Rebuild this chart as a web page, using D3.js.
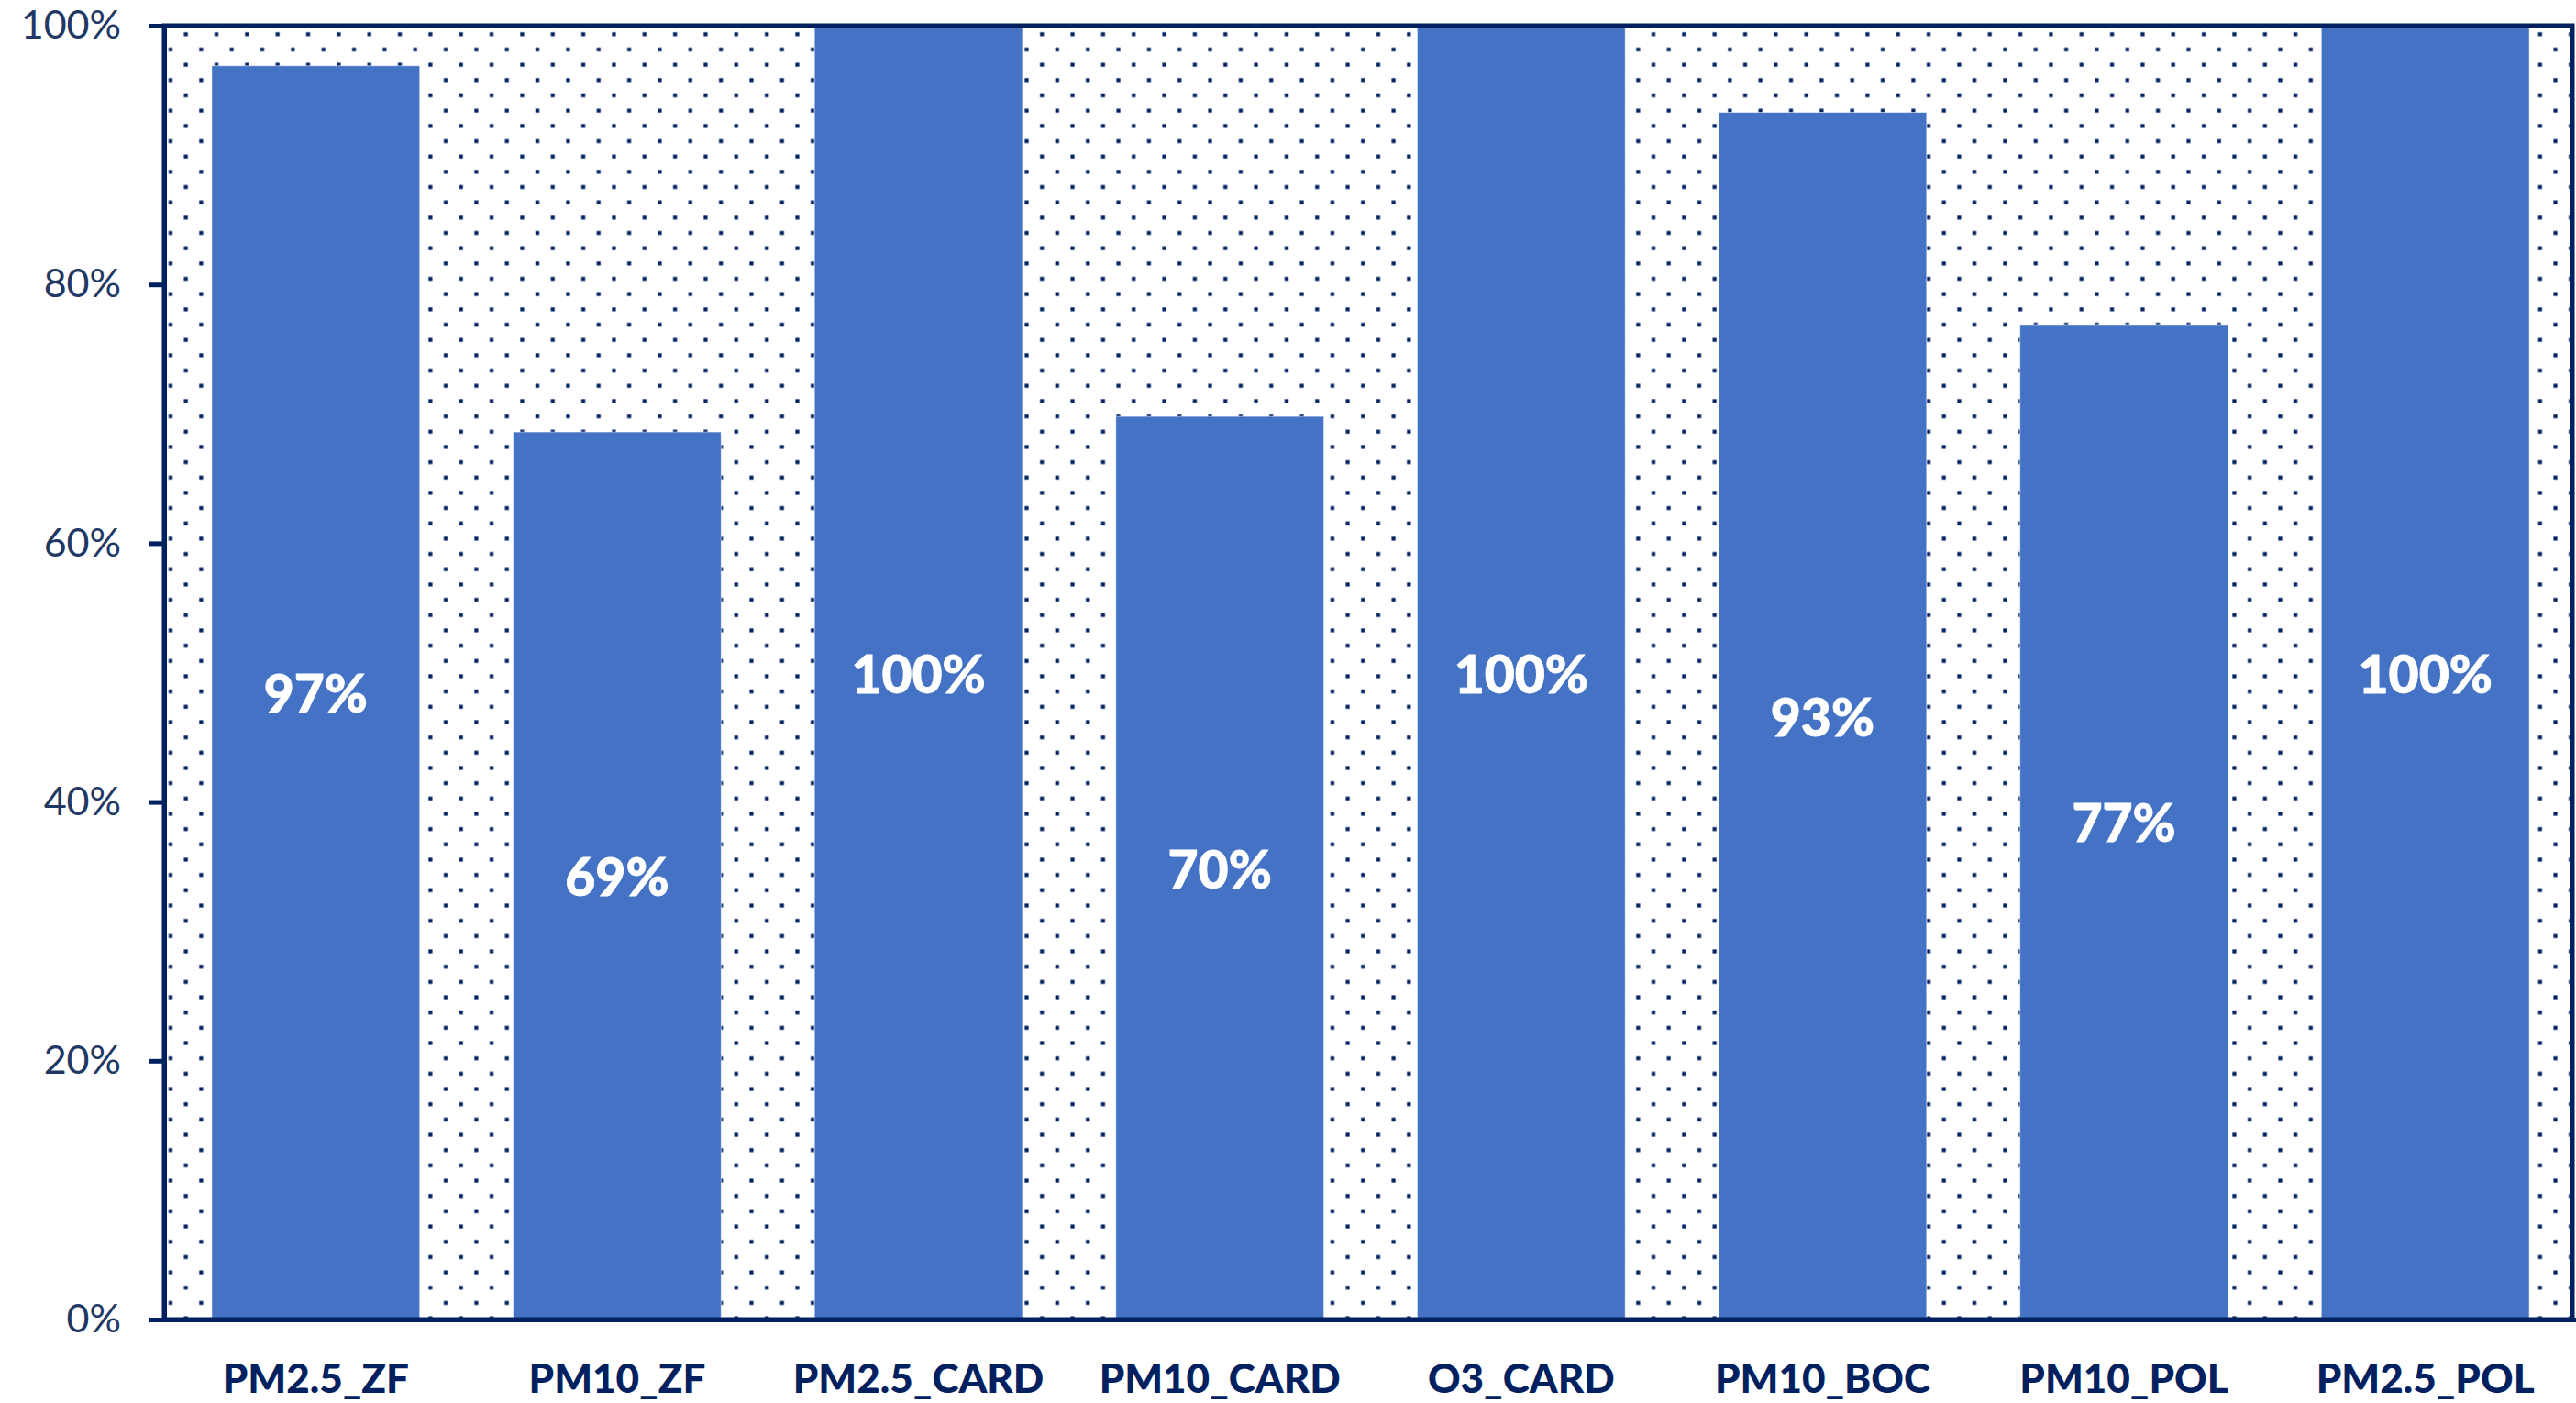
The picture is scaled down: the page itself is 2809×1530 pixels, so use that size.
<!DOCTYPE html>
<html>
<head>
<meta charset="utf-8">
<script src="https://cdn.jsdelivr.net/npm/d3@7"></script>
<style>
  html, body { margin: 0; padding: 0; background: #ffffff; }
  svg { display: block; }
</style>
</head>
<body>
<svg id="chart" width="2809" height="1530"></svg>
<script>
// Monitoring data completeness per station / pollutant
const categories = ["PM2.5_ZF", "PM10_ZF", "PM2.5_CARD", "PM10_CARD", "O3_CARD", "PM10_BOC", "PM10_POL", "PM2.5_POL"];
const completeness = [0.969, 0.686, 1.00, 0.698, 1.00, 0.933, 0.769, 1.00];
const yTicks = [0, 0.2, 0.4, 0.6, 0.8, 1.0];

const W = 2809, H = 1530;
const plot = { left: 179, right: 2805, top: 28, bottom: 1439 };
const navy = "#002060";
const barColor = "#4472C4";
const pct = d3.format(".0%");

const svg = d3.select("#chart");

const x = d3.scaleBand()
  .domain(categories)
  .range([plot.left + 1, plot.right + 4])
  .paddingInner(0.31)
  .paddingOuter(0.155);

const y = d3.scaleLinear()
  .domain([0, 1])
  .range([plot.bottom, plot.top]);

// dotted fill of the plot area
const step = 33.34, half = step / 2, dot = 4.2;
const defs = svg.append("defs");
const pat = defs.append("pattern")
  .attr("id", "dots")
  .attr("patternUnits", "userSpaceOnUse")
  .attr("width", step)
  .attr("height", step)
  .attr("x", 186 - half / 2)
  .attr("y", 154 - half / 2);
pat.append("rect").attr("width", step).attr("height", step).attr("fill", "#ffffff");
[[half / 2, half / 2], [half / 2 + half, half / 2 + half]].forEach(([cx, cy]) => {
  pat.append("rect")
    .attr("x", cx - dot / 2).attr("y", cy - dot / 2)
    .attr("width", dot).attr("height", dot)
    .attr("fill", navy);
});

svg.append("rect")
  .attr("x", plot.left).attr("y", plot.top)
  .attr("width", plot.right - plot.left)
  .attr("height", plot.bottom - plot.top)
  .attr("fill", "url(#dots)");

// bars
svg.append("g").selectAll("rect")
  .data(categories)
  .join("rect")
  .attr("x", d => x(d))
  .attr("width", x.bandwidth())
  .attr("y", (d, i) => y(completeness[i]))
  .attr("height", (d, i) => y(0) - y(completeness[i]))
  .attr("fill", barColor)
  .attr("stroke", "#ffffff")
  .attr("stroke-opacity", 0.5)
  .attr("stroke-width", 1);

// value labels, centred in each bar
svg.append("g").selectAll("text")
  .data(categories)
  .join("text")
  .attr("x", d => x(d) + x.bandwidth() / 2)
  .attr("y", (d, i) => (y(completeness[i]) + y(0)) / 2)
  .attr("text-anchor", "middle")
  .attr("dominant-baseline", "central")
  .attr("font-family", "Lato, 'Open Sans', sans-serif")
  .attr("font-weight", "900")
  .attr("font-size", 57)
  .attr("fill", "#ffffff")
  .attr("stroke", "#ffffff")
  .attr("stroke-width", 0.8)
  .text((d, i) => pct(completeness[i]));

// frame round the plot area
svg.append("rect")
  .attr("x", plot.left).attr("y", plot.top)
  .attr("width", plot.right - plot.left)
  .attr("height", plot.bottom - plot.top)
  .attr("fill", "none")
  .attr("stroke", navy)
  .attr("stroke-width", 5);

// y axis
const yAxis = svg.append("g")
  .attr("transform", `translate(${plot.left},0)`)
  .call(d3.axisLeft(y).tickValues(yTicks).tickFormat(pct).tickSize(17).tickPadding(30));
yAxis.select(".domain").attr("stroke", navy).attr("stroke-width", 5);
yAxis.selectAll(".tick line").attr("stroke", navy).attr("stroke-width", 5);
yAxis.selectAll(".tick text")
  .attr("font-family", "Lato, 'Open Sans', sans-serif")
  .attr("font-size", 43)
  .attr("fill", "#1F3864");

// x axis
const xAxis = svg.append("g")
  .attr("transform", `translate(0,${plot.bottom})`)
  .call(d3.axisBottom(x).tickSize(0).tickPadding(49));
xAxis.select(".domain").attr("stroke", navy).attr("stroke-width", 5);
xAxis.selectAll(".tick text")
  .attr("font-family", "Lato, 'Open Sans', sans-serif")
  .attr("font-weight", "900")
  .attr("font-size", 44)
  .attr("fill", navy);
</script>
</body>
</html>
